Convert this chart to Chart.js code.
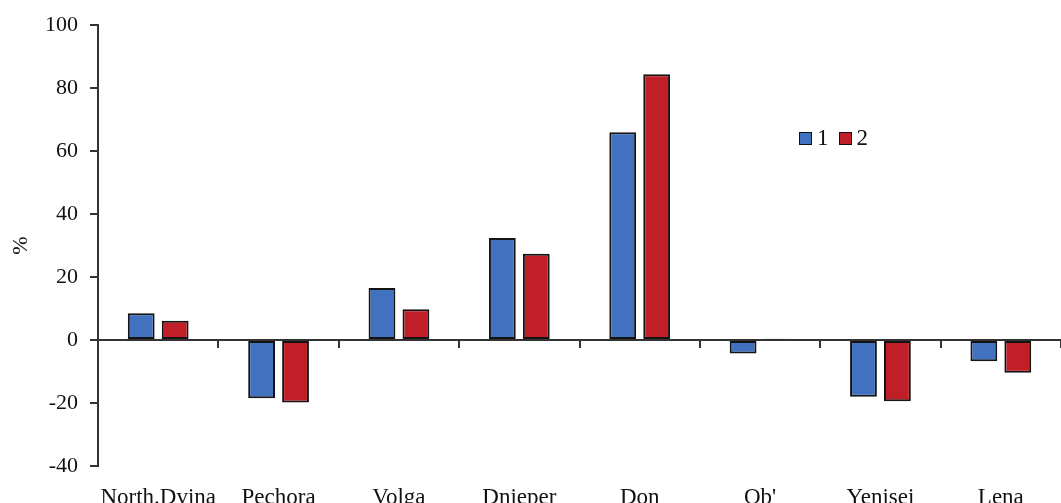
<!DOCTYPE html>
<html>
<head>
<meta charset="utf-8">
<script src="https://cdn.jsdelivr.net/npm/chart.js@4/dist/chart.umd.min.js"></script>
<style>
  html, body { margin: 0; padding: 0; background: #fff; overflow: hidden; }
  #wrap { position: relative; width: 1061px; height: 503px; }
  #legend { position: absolute; left: 799px; top: 125px; display: flex; align-items: center;
            font-family: "Liberation Serif", "Times New Roman", serif; font-size: 23px; color: #111; }
  #legend .item { display: flex; align-items: center; margin-right: 10px; }
  #legend .box { width: 11px; height: 11px; border: 1.5px solid #111; margin-right: 5px; }
</style>
</head>
<body>
<div id="wrap">
  <canvas id="chart" width="1061" height="503"></canvas>
  <div id="legend"></div>
</div>
<script>
// River names along the category axis
const rivers = ['North.Dvina', 'Pechora', 'Volga', 'Dnieper', 'Don', "Ob'", 'Yenisei', 'Lena'];

// Percent change for the two series
const series1 = [8.5, -18.5, 16.5, 32.4, 66.0, -4.3, -18.0, -6.7];
const series2 = [6.1, -19.8, 9.8, 27.4, 84.4, 0.4, -19.4, -10.4];

// Series names shown in the legend
const seriesNames = ['1', '2'];

// Value axis range and step
const yMin = -40;
const yMax = 100;
const yStep = 20;

const axisColor = '#333';
const textColor = '#111';
const serif = '"Liberation Serif", "Times New Roman", serif';

const datasets = [
  { label: seriesNames[0], data: series1, backgroundColor: '#4171bf' },
  { label: seriesNames[1], data: series2, backgroundColor: '#c11f28' }
].map(d => Object.assign(d, {
  borderColor: '#141414',
  borderWidth: 2,
  borderSkipped: false,
  categoryPercentage: 0.564,
  barPercentage: 0.79,
  xAxisID: 'x',
  yAxisID: 'y'
}));

const chart = new Chart(document.getElementById('chart'), {
  type: 'bar',
  data: { labels: rivers, datasets },
  options: {
    responsive: false,
    animation: false,
    layout: { padding: { top: 24, left: 0, right: 0, bottom: 0 } },
    plugins: { legend: { display: false }, tooltip: { enabled: false } },
    scales: {
      x: {
        type: 'category',
        position: 'bottom',
        offset: true,
        grid: { display: false, drawTicks: false },
        border: { display: false },
        ticks: { font: { family: serif, size: 23 }, color: textColor, padding: 18, maxRotation: 0, autoSkip: false },
        afterFit: s => { s.height = 37; }
      },
      // zero line with category separator ticks
      xz: {
        type: 'category',
        labels: rivers,
        position: { y: 0 },
        offset: true,
        grid: { display: true, drawOnChartArea: false, drawTicks: true, tickLength: 7, offset: true, color: axisColor, lineWidth: 2 },
        border: { display: true, color: axisColor, width: 2 },
        ticks: { display: false }
      },
      y: {
        min: yMin,
        max: yMax,
        ticks: { stepSize: yStep, font: { family: serif, size: 22 }, color: textColor, padding: 12 },
        grid: { display: true, drawOnChartArea: false, drawTicks: true, tickLength: 8, color: axisColor, lineWidth: 2 },
        border: { display: true, color: axisColor, width: 2 },
        title: { display: true, text: '%', font: { family: serif, size: 22 }, color: textColor, padding: { top: 8, bottom: 0 } },
        afterFit: s => { s.width = 98; }
      }
    }
  }
});

// legend built from the dataset labels and colours
const legend = document.getElementById('legend');
chart.data.datasets.forEach(ds => {
  const item = document.createElement('div');
  item.className = 'item';
  const box = document.createElement('span');
  box.className = 'box';
  box.style.background = ds.backgroundColor;
  const txt = document.createElement('span');
  txt.textContent = ds.label;
  item.appendChild(box);
  item.appendChild(txt);
  legend.appendChild(item);
});
</script>
</body>
</html>
